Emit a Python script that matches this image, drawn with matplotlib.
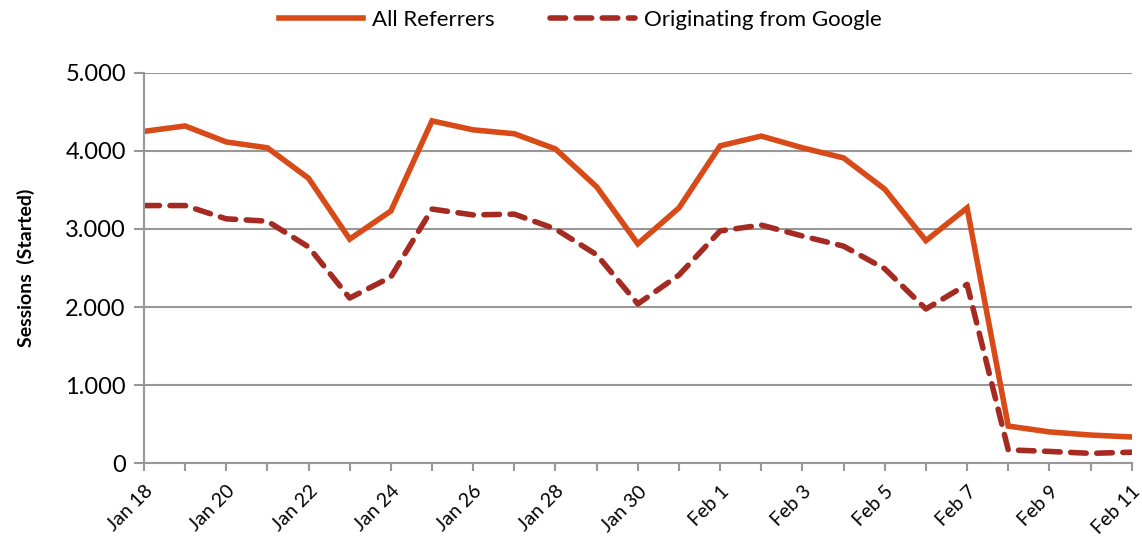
import matplotlib.pyplot as plt
from matplotlib.ticker import FuncFormatter

plt.rcParams['font.family'] = ['Lato', 'DejaVu Sans']

days = ["Jan 18", "Jan 19", "Jan 20", "Jan 21", "Jan 22", "Jan 23", "Jan 24",
        "Jan 25", "Jan 26", "Jan 27", "Jan 28", "Jan 29", "Jan 30", "Jan 31",
        "Feb 1", "Feb 2", "Feb 3", "Feb 4", "Feb 5", "Feb 6", "Feb 7",
        "Feb 8", "Feb 9", "Feb 10", "Feb 11"]

all_referrers = [4250, 4320, 4115, 4040, 3650, 2870, 3230,
                 4385, 4270, 4220, 4025, 3540, 2810, 3270,
                 4065, 4190, 4040, 3910, 3510, 2850, 3270,
                 475, 400, 360, 335]

from_google = [3300, 3300, 3130, 3100, 2770, 2115, 2385,
               3255, 3180, 3190, 3000, 2670, 2040, 2410,
               2975, 3050, 2910, 2780, 2490, 1975, 2290,
               170, 150, 125, 140]

x = list(range(len(days)))

fig = plt.figure(figsize=(11.42, 5.52), dpi=100)
ax = fig.add_axes([0.126, 0.161, 0.865, 0.707])

ax.plot(x, all_referrers, color="#D84A17", lw=4, label="All Referrers",
        solid_joinstyle="miter")
ax.plot(x, from_google, color="#A52A22", lw=4, ls=(0, (2.8, 1.9)),
        label="Originating from Google", dash_capstyle="round")

ax.set_xlim(0, len(days) - 1)
ax.set_ylim(0, 5000)
ax.set_yticks(range(0, 5001, 1000))
ax.yaxis.set_major_formatter(FuncFormatter(
    lambda v, p: "0" if v == 0 else f"{int(v):,}".replace(",", ".")))
ax.grid(axis="y", color="#989898", lw=1.5)
ax.set_axisbelow(True)

ax.set_xticks(x)
ax.set_xticklabels([d if i % 2 == 0 else "" for i, d in enumerate(days)],
                   rotation=45, ha="right", rotation_mode="anchor", fontsize=14)
ax.tick_params(axis="x", length=6, width=1.5, color="#989898", pad=8)
ax.tick_params(axis="y", length=7, width=1.5, color="#989898", labelsize=17, pad=6)

for s in ["top", "right"]:
    ax.spines[s].set_visible(False)
for s in ["left", "bottom"]:
    ax.spines[s].set_color("#989898")
    ax.spines[s].set_linewidth(1.5)

ax.set_ylabel("Sessions  (Started)", fontsize=14, fontweight="bold", labelpad=22)

fig.legend(*ax.get_legend_handles_labels(), loc="upper center",
           bbox_to_anchor=(0.508, 1.018), ncol=2, frameon=False,
           fontsize=16, handlelength=3.8, columnspacing=2.5, handletextpad=0.4)

fig.savefig("out.png", dpi=100)
